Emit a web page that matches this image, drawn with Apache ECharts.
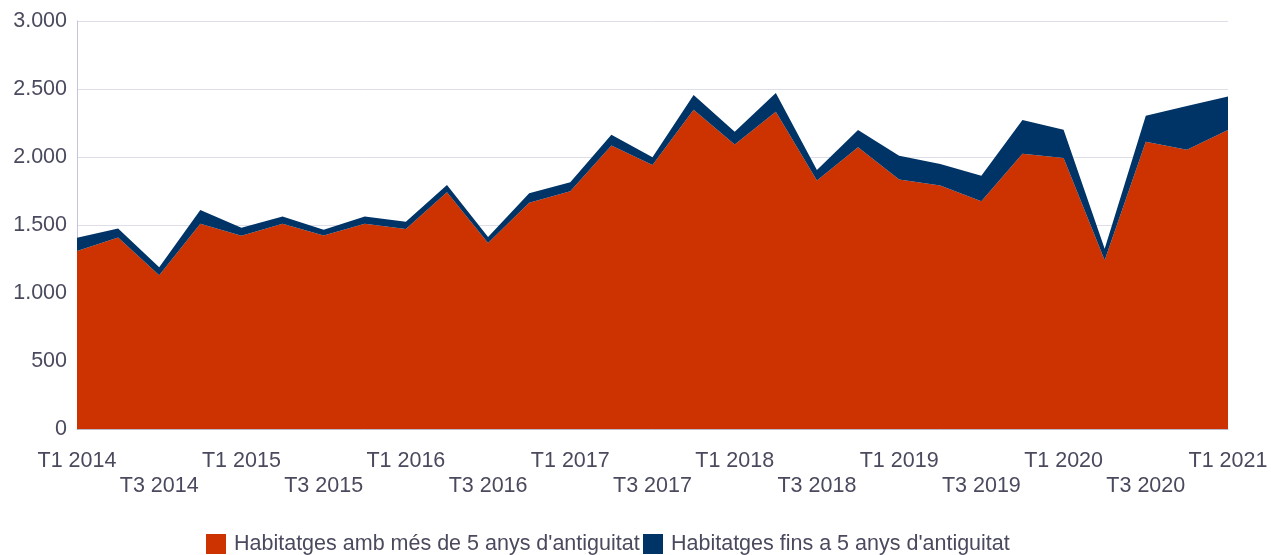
<!DOCTYPE html>
<html>
<head>
<meta charset="utf-8">
<script src="https://cdn.jsdelivr.net/npm/echarts@6/dist/echarts.min.js"></script>
<style>
  html, body { margin: 0; padding: 0; background: #ffffff; }
  #chart { width: 1271px; height: 555px; }
</style>
</head>
<body>
<div id="chart"></div>
<script>
// Quarterly housing figures, stacked by age of the dwelling
const quarters = [
  'T1 2014', 'T2 2014', 'T3 2014', 'T4 2014',
  'T1 2015', 'T2 2015', 'T3 2015', 'T4 2015',
  'T1 2016', 'T2 2016', 'T3 2016', 'T4 2016',
  'T1 2017', 'T2 2017', 'T3 2017', 'T4 2017',
  'T1 2018', 'T2 2018', 'T3 2018', 'T4 2018',
  'T1 2019', 'T2 2019', 'T3 2019', 'T4 2019',
  'T1 2020', 'T2 2020', 'T3 2020', 'T4 2020',
  'T1 2021'
];

const olderName = "Habitatges amb més de 5 anys d'antiguitat";
const newerName = "Habitatges fins a 5 anys d'antiguitat";

const olderValues = [
  1308, 1408, 1130, 1509, 1421, 1509, 1423, 1509, 1470, 1741,
  1367, 1663, 1748, 2084, 1942, 2348, 2091, 2333, 1827, 2071,
  1834, 1790, 1675, 2023, 1993, 1240, 2113, 2054, 2199
];

const newerValues = [
  98, 66, 60, 102, 59, 54, 42, 54, 54, 54,
  44, 71, 66, 80, 56, 108, 95, 137, 78, 128,
  176, 159, 188, 249, 208, 86, 191, 321, 246
];

const yTicks = { min: 0, max: 3000, interval: 500 };

const textColor = '#4a4a5e';
const fontFamily = '"Liberation Sans", Arial, sans-serif';
const fontSize = 21.5;

function areaSeries(name, values, color) {
  return {
    name: name,
    type: 'line',
    stack: 'total',
    data: values,
    showSymbol: false,
    symbol: 'none',
    lineStyle: { width: 0 },
    areaStyle: { color: color, opacity: 1 },
    itemStyle: { color: color }
  };
}

// Two legends placed side by side; the second one sits on top of the first
function legendFor(name, left, z) {
  return {
    data: [name],
    left: left,
    top: 533,
    padding: 0,
    z: z,
    icon: 'rect',
    itemWidth: 20,
    itemHeight: 20,
    itemGap: 0,
    selectedMode: false,
    textStyle: {
      color: textColor,
      fontSize: fontSize,
      fontFamily: fontFamily,
      padding: [0, 0, 0, 3]
    }
  };
}

const chart = echarts.init(document.getElementById('chart'), null, { renderer: 'canvas' });

chart.setOption({
  animation: false,
  backgroundColor: '#ffffff',
  textStyle: { fontFamily: fontFamily },
  grid: { left: 77, right: 43, top: 21, bottom: 126, containLabel: false },
  legend: [
    legendFor(olderName, 206, 4),
    legendFor(newerName, 643, 5)
  ],
  xAxis: {
    type: 'category',
    data: quarters,
    boundaryGap: false,
    axisLine: { show: true, lineStyle: { color: '#b8b8c8', width: 1 } },
    axisTick: { show: false },
    splitLine: { show: false },
    axisLabel: {
      interval: 1,
      color: textColor,
      fontSize: fontSize,
      lineHeight: 25,
      margin: 20,
      fontFamily: fontFamily,
      formatter: function (value, index) {
        return index % 4 === 2 ? '\n' + value : value;
      }
    }
  },
  yAxis: {
    type: 'value',
    min: yTicks.min,
    max: yTicks.max,
    interval: yTicks.interval,
    axisLine: { show: true, lineStyle: { color: '#c4c4d8', width: 1 } },
    axisTick: { show: false },
    splitLine: { show: true, lineStyle: { color: '#dedee8', width: 1 } },
    axisLabel: {
      color: textColor,
      fontSize: fontSize,
      margin: 10,
      fontFamily: fontFamily,
      formatter: function (v) {
        return v.toLocaleString('de-DE');
      }
    }
  },
  series: [
    areaSeries(olderName, olderValues, '#cc3300'),
    areaSeries(newerName, newerValues, '#003366')
  ]
});
</script>
</body>
</html>
